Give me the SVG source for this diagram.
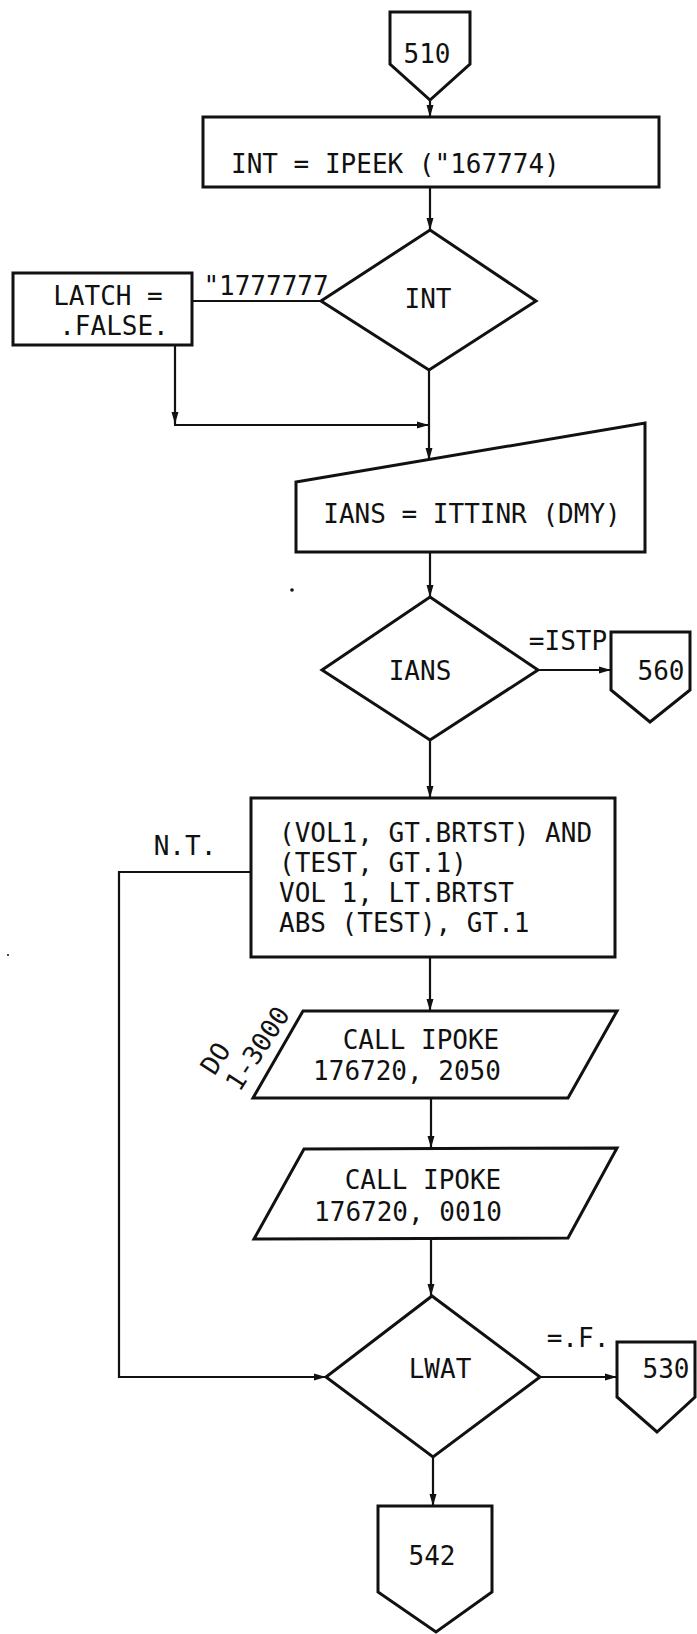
<svg xmlns="http://www.w3.org/2000/svg" width="697" height="1634" viewBox="0 0 697 1634">
<style>
.s{fill:#fff;stroke:#111;stroke-width:3;stroke-linejoin:miter}
.c{fill:none;stroke:#111;stroke-width:2.2}
text{font-family:"DejaVu Sans Mono","Liberation Mono",monospace;font-size:26px;fill:#111}
.m{text-anchor:middle}
</style>
<defs>
<marker id="a" markerUnits="userSpaceOnUse" markerWidth="12" markerHeight="8" refX="12" refY="4" orient="auto">
<path d="M0,0.5 L12,4 L0,7.5 Z" fill="#111"/>
</marker>
</defs>
<rect width="697" height="1634" fill="#fff"/>
<g id="connectors">
<path class="c" d="M430,100 L430,117" marker-end="url(#a)"/>
<path class="c" d="M430,187 L430,230" marker-end="url(#a)"/>
<path class="c" d="M321,301 L192,301"/>
<path class="c" d="M175,345 L175,424" marker-end="url(#a)"/>
<path class="c" d="M174,425 L429,425" marker-end="url(#a)"/>
<path class="c" d="M429,370 L429,460" marker-end="url(#a)"/>
<path class="c" d="M430,552 L430,597" marker-end="url(#a)"/>
<path class="c" d="M538,670 L611,670" marker-end="url(#a)"/>
<path class="c" d="M430,740 L430,798" marker-end="url(#a)"/>
<path class="c" d="M251,872 L119,872 L119,1377 L326,1377" marker-end="url(#a)"/>
<path class="c" d="M430,957 L430,1011" marker-end="url(#a)"/>
<path class="c" d="M431,1098 L431,1148" marker-end="url(#a)"/>
<path class="c" d="M431,1238 L431,1296" marker-end="url(#a)"/>
<path class="c" d="M540,1377 L617,1377" marker-end="url(#a)"/>
<path class="c" d="M433,1457 L433,1506" marker-end="url(#a)"/>
<text class="m" x="266" y="295" font-size="25">"1777777</text>
<text class="m" x="568" y="650">=ISTP</text>
<text class="m" x="185" y="855" font-size="25">N.T.</text>
<text class="m" x="578" y="1347" font-size="25">=.F.</text>
</g>
<g id="n510">
<path class="s" d="M390,12 L470,12 L470,64 L430,100 L390,64 Z"/>
<text class="m" x="427" y="63" font-size="28">510</text>
</g>
<g id="int-ipeek">
<rect class="s" x="203" y="117" width="456" height="70"/>
<text x="231" y="173" font-size="28">INT = IPEEK ("167774)</text>
</g>
<g id="latch">
<rect class="s" x="13" y="273" width="179" height="72"/>
<text class="m" x="108" y="305">LATCH =</text>
<text class="m" x="114" y="335">.FALSE.</text>
</g>
<g id="int-dec">
<path class="s" d="M430,230 L536,301 L429,370 L321,301 Z"/>
<text class="m" x="428" y="308" font-size="25">INT</text>
</g>
<g id="ians-input">
<path class="s" d="M296,482 L645,423 L645,552 L296,552 Z"/>
<text class="m" x="472" y="523">IANS = ITTINR (DMY)</text>
</g>
<g id="ians-dec">
<path class="s" d="M430,597 L538,670 L430,740 L322,670 Z"/>
<text class="m" x="420" y="680">IANS</text>
</g>
<g id="n560">
<path class="s" d="M611,632 L690,632 L690,690 L650,722 L611,690 Z"/>
<text class="m" x="661" y="680">560</text>
</g>
<g id="vol-box">
<rect class="s" x="251" y="798" width="364" height="159"/>
<text x="279" y="842">(VOL1, GT.BRTST) AND</text>
<text x="279" y="872">(TEST, GT.1)</text>
<text x="279" y="902">VOL 1, LT.BRTST</text>
<text x="279" y="932">ABS (TEST), GT.1</text>
</g>
<g id="ipoke1">
<path class="s" d="M303,1011 L617,1011 L568,1098 L253,1098 Z"/>
<text class="m" x="421" y="1049">CALL IPOKE</text>
<text class="m" x="407" y="1080">176720, 2050</text>
<g transform="translate(215,1059) rotate(-57)">
<text x="-15" y="9">DO</text>
<text x="-15" y="39">1-3000</text>
</g>
</g>
<g id="ipoke2">
<path class="s" d="M304,1149 L617,1148 L568,1238 L254,1239 Z"/>
<text class="m" x="423" y="1189">CALL IPOKE</text>
<text class="m" x="408" y="1221">176720, 0010</text>
</g>
<g id="lwat">
<path class="s" d="M432,1296 L540,1377 L433,1457 L326,1377 Z"/>
<text class="m" x="440" y="1378">LWAT</text>
</g>
<g id="n530">
<path class="s" d="M617,1342 L695,1342 L695,1397 L657,1432 L617,1397 Z"/>
<text class="m" x="666" y="1378">530</text>
</g>
<g id="n542">
<path class="s" d="M378,1506 L492,1506 L492,1592 L436,1632 L378,1592 Z"/>
<text class="m" x="432" y="1565">542</text>
</g>
<g id="specks">
<circle cx="292" cy="590" r="1.8" fill="#111"/>
<circle cx="8" cy="955" r="1" fill="#111"/>
</g>
</svg>
